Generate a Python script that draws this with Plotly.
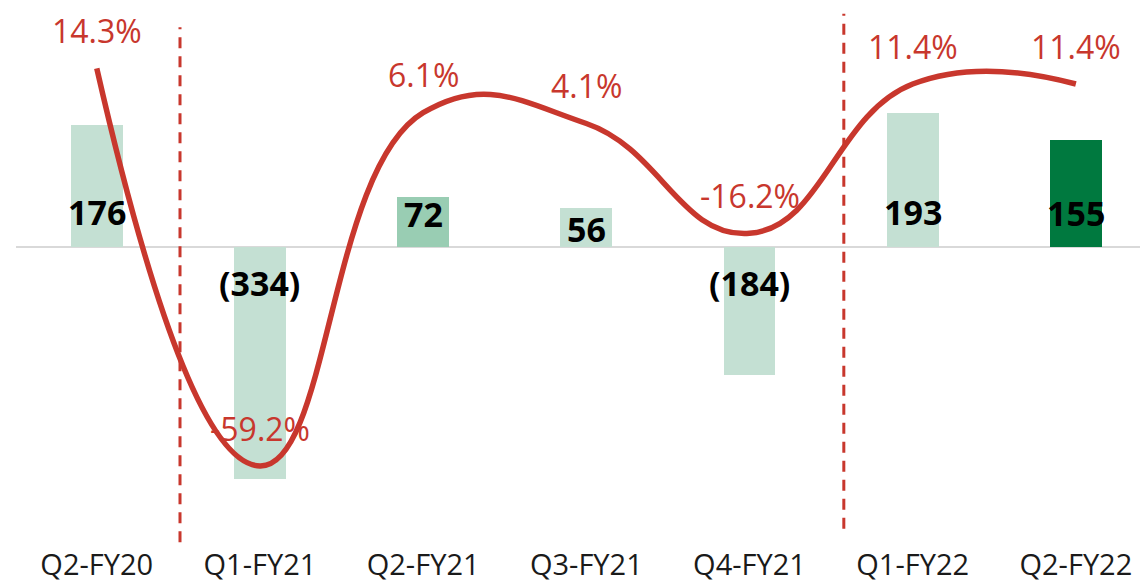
import plotly.graph_objects as go

# Quarterly values (bars) and growth rates (line)
quarters = ["Q2-FY20", "Q1-FY21", "Q2-FY21", "Q3-FY21", "Q4-FY21", "Q1-FY22", "Q2-FY22"]
values = [176, -334, 72, 56, -184, 193, 155]
growth_pct = [14.3, -59.2, 6.1, 4.1, -16.2, 11.4, 11.4]

# Styling
bar_colors = ["#c4e0d3", "#c4e0d3", "#99cdb3", "#c4e0d3", "#c4e0d3", "#c4e0d3", "#00793f"]
label_shift = [35, -36, 33, 18, -36, 35, 34]
RED = "#c8372d"
FONT = "Open Sans"

x = list(range(len(quarters)))


def fmt_value(v):
    return f"({abs(v)})" if v < 0 else f"{v}"


fig = go.Figure()

fig.add_trace(go.Bar(
    x=x, y=values, marker=dict(color=bar_colors, line=dict(width=0)),
    width=0.317, hoverinfo="skip", yaxis="y",
))

fig.add_trace(go.Scatter(
    x=x, y=growth_pct, mode="lines", yaxis="y2",
    line=dict(color=RED, width=5.5, shape="spline", smoothing=1.3),
    hoverinfo="skip",
))

annotations = []
for i, v in enumerate(values):
    annotations.append(dict(
        x=i, y=0, xref="x", yref="y", text=fmt_value(v), showarrow=False,
        yshift=label_shift[i], font=dict(family=FONT, size=34, color="#000000", weight="bold"),
    ))
for i, p in enumerate(growth_pct):
    annotations.append(dict(
        x=i, y=p, xref="x", yref="y2", text=f"{p:.1f}%", showarrow=False,
        yshift=38, font=dict(family=FONT, size=32, color=RED),
    ))

shapes = [
    dict(type="line", xref="x", yref="paper", x0=0.51, x1=0.51, y0=0.005, y1=0.95,
         line=dict(color=RED, width=3, dash="11px,8px")),
    dict(type="line", xref="x", yref="paper", x0=4.578, x1=4.578, y0=0.03, y1=0.975,
         line=dict(color=RED, width=3, dash="11px,8px")),
]

fig.update_layout(
    width=1140, height=584,
    margin=dict(l=16, r=0, t=0, b=39),
    paper_bgcolor="white", plot_bgcolor="white",
    showlegend=False,
    bargap=0,
    xaxis=dict(
        range=[-0.495, 6.393], tickmode="array", tickvals=x, ticktext=quarters,
        showgrid=False, zeroline=False, showline=False, ticks="",
        tickfont=dict(family=FONT, size=29, color="#1a1a1a"),
    ),
    yaxis=dict(
        range=[-428.3, 355.8], showgrid=False, showticklabels=False,
        zeroline=True, zerolinecolor="#d9d9d9", zerolinewidth=2,
    ),
    yaxis2=dict(
        range=[-73.8, 26.93], overlaying="y", side="right",
        showgrid=False, showticklabels=False, zeroline=False,
    ),
    annotations=annotations,
    shapes=shapes,
)

fig.write_html("out.html")
